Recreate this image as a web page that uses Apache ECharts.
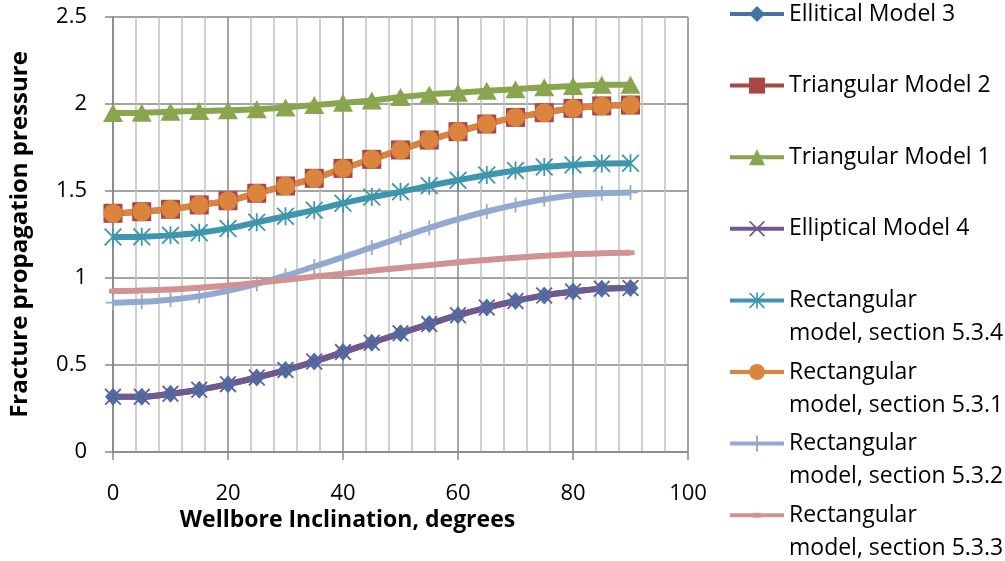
<!DOCTYPE html>
<html>
<head>
<meta charset="utf-8">
<script src="https://cdn.jsdelivr.net/npm/echarts@6/dist/echarts.min.js"></script>
<style>
  html, body { margin: 0; padding: 0; background: #fff; }
  #chart { width: 1005px; height: 561px; }
</style>
</head>
<body>
<div id="chart"></div>
<script>
// Wellbore inclination (degrees) at which every model was evaluated
const INCLINATION = [0, 5, 10, 15, 20, 25, 30, 35, 40, 45, 50, 55, 60, 65, 70, 75, 80, 85, 90];

// Fracture propagation pressure for each model
const ELLITICAL_MODEL_3 = [0.318, 0.318, 0.335, 0.358, 0.390, 0.428, 0.471, 0.520, 0.574, 0.628, 0.682, 0.735, 0.786, 0.830, 0.868, 0.900, 0.922, 0.938, 0.942];
const TRIANGULAR_MODEL_2 = [1.372, 1.381, 1.395, 1.420, 1.444, 1.487, 1.529, 1.573, 1.630, 1.682, 1.736, 1.793, 1.841, 1.885, 1.923, 1.950, 1.975, 1.989, 1.994];
const TRIANGULAR_MODEL_1 = [1.948, 1.950, 1.956, 1.960, 1.964, 1.970, 1.980, 1.994, 2.007, 2.020, 2.040, 2.055, 2.065, 2.076, 2.085, 2.096, 2.103, 2.110, 2.110];
const ELLIPTICAL_MODEL_4 = [0.318, 0.318, 0.335, 0.358, 0.390, 0.428, 0.471, 0.520, 0.574, 0.628, 0.682, 0.735, 0.786, 0.830, 0.868, 0.900, 0.922, 0.938, 0.942];
const RECT_534 = [1.235, 1.237, 1.245, 1.260, 1.285, 1.320, 1.355, 1.390, 1.430, 1.465, 1.495, 1.530, 1.562, 1.592, 1.618, 1.638, 1.650, 1.658, 1.660];
const RECT_531 = [1.372, 1.381, 1.395, 1.420, 1.444, 1.487, 1.529, 1.573, 1.630, 1.682, 1.736, 1.793, 1.841, 1.885, 1.923, 1.950, 1.975, 1.989, 1.994];
const RECT_532 = [0.858, 0.863, 0.875, 0.896, 0.926, 0.966, 1.013, 1.066, 1.120, 1.176, 1.232, 1.288, 1.338, 1.382, 1.420, 1.452, 1.475, 1.487, 1.492];
const RECT_533 = [0.925, 0.928, 0.934, 0.944, 0.957, 0.972, 0.990, 1.008, 1.025, 1.042, 1.058, 1.074, 1.090, 1.104, 1.117, 1.128, 1.137, 1.142, 1.145];

const SERIES_NAMES = [
  'Ellitical Model 3',
  'Triangular Model 2',
  'Triangular Model 1',
  'Elliptical Model 4',
  'Rectangular model, section 5.3.4',
  'Rectangular model, section 5.3.1',
  'Rectangular model, section 5.3.2',
  'Rectangular model, section 5.3.3'
];
const SERIES_VALUES = [
  ELLITICAL_MODEL_3, TRIANGULAR_MODEL_2, TRIANGULAR_MODEL_1, ELLIPTICAL_MODEL_4,
  RECT_534, RECT_531, RECT_532, RECT_533
];

// Axis tick settings
const X_MIN = 0, X_MAX = 100, X_STEP = 20;
const Y_MIN = 0, Y_MAX = 2.5, Y_STEP = 0.5;

// Marker shapes drawn as thin filled strokes
const SYM_CROSS = 'path://M0,1.5L1.5,0L20,18.5L18.5,20ZM18.5,0L20,1.5L1.5,20L0,18.5Z';
const SYM_STAR = 'path://M0,1.4L1.4,0L20,18.6L18.6,20ZM18.6,0L20,1.4L1.4,20L0,18.6ZM9,0L11,0L11,20L9,20Z';
const SYM_PLUS = 'path://M8.8,0L11.2,0L11.2,20L8.8,20ZM0,8.8L20,8.8L20,11.2L0,11.2Z';
const SYM_DASH = 'path://M0,0M20,20M5,7L15,7L15,13L5,13Z';

const STYLES = [
  { color: '#4572A7', symbol: 'diamond', size: [16, 18] },
  { color: '#AA4643', symbol: 'rect', size: 19 },
  { color: '#89A54E', symbol: 'triangle', size: [20, 18] },
  { color: '#71588F', symbol: SYM_CROSS, size: 17 },
  { color: '#3D96AE', symbol: SYM_STAR, size: 18 },
  { color: '#DB843D', symbol: 'circle', size: 19 },
  { color: '#93A9CF', symbol: SYM_PLUS, size: 15 },
  { color: '#D19392', symbol: SYM_DASH, size: 16 }
];

const FONT = '"Open Sans", "Noto Sans", sans-serif';
const MAJOR_GRID = '#868686';
const MINOR_GRID = '#c0c0c0';
const LINE_WIDTH = 6;

const series = SERIES_NAMES.map((name, i) => ({
  name,
  type: 'line',
  smooth: 0.4,
  data: INCLINATION.map((x, k) => [x, SERIES_VALUES[i][k]]),
  symbol: STYLES[i].symbol,
  symbolSize: STYLES[i].size,
  showAllSymbol: true,
  color: STYLES[i].color,
  lineStyle: { color: STYLES[i].color, width: LINE_WIDTH, type: 'solid' },
  itemStyle: { color: STYLES[i].color, opacity: 1 },
  emphasis: { disabled: true }
}));

// One legend block per entry, stacked at an even pitch on the right.
// Two-line entries get a blank leading line so the first text line sits on the icon.
const LEGEND_FIRST = 14;
const LEGEND_PITCH = 71.6;
const LEGEND_LINE = 33;
const legends = SERIES_NAMES.map((name, i) => {
  const twoLine = name.indexOf('Rectangular ') === 0;
  const centre = LEGEND_FIRST + i * LEGEND_PITCH;
  return {
    data: [name],
    orient: 'vertical',
    left: 728,
    top: twoLine ? centre - LEGEND_LINE * 1.5 : centre - LEGEND_LINE / 2,
    padding: 0,
    itemGap: 0,
    itemWidth: 54,
    itemHeight: 20,
    selectedMode: false,
    formatter: n => (twoLine ? ' \n' + n.replace('Rectangular ', 'Rectangular\n') : n),
    lineStyle: { width: 4 },
    textStyle: {
      fontFamily: FONT,
      fontSize: 23,
      color: '#000',
      lineHeight: LEGEND_LINE
    }
  };
});

const chart = echarts.init(document.getElementById('chart'), null, { renderer: 'canvas' });
chart.setOption({
  animation: false,
  backgroundColor: '#fff',
  grid: { left: 109, right: 317, top: 17, bottom: 109, containLabel: false },
  legend: legends,
  xAxis: {
    type: 'value',
    min: X_MIN, max: X_MAX, interval: X_STEP,
    name: 'Wellbore Inclination, degrees',
    nameLocation: 'middle',
    nameGap: 57,
    nameMoveOverlap: false,
    nameTextStyle: {
      fontFamily: FONT, fontSize: 23, fontWeight: 'bold', color: '#000',
      padding: [0, 106, 0, 0]
    },
    axisLine: { show: true, lineStyle: { color: MAJOR_GRID, width: 1.5 } },
    axisTick: { show: true, inside: false, length: 8, lineStyle: { color: MAJOR_GRID, width: 1.5 } },
    axisLabel: { fontFamily: FONT, fontSize: 22, color: '#000', margin: 31 },
    splitLine: { show: true, lineStyle: { color: MAJOR_GRID, width: 1.5 } },
    minorTick: { show: false, splitNumber: 5 },
    minorSplitLine: { show: true, lineStyle: { color: MINOR_GRID, width: 1.5 } }
  },
  yAxis: {
    type: 'value',
    min: Y_MIN, max: Y_MAX, interval: Y_STEP,
    name: 'Fracture propagation pressure',
    nameLocation: 'middle',
    nameGap: 81,
    nameMoveOverlap: false,
    nameTextStyle: { fontFamily: FONT, fontSize: 24, fontWeight: 'bold', color: '#000' },
    axisLine: { show: true, lineStyle: { color: MAJOR_GRID, width: 1.5 } },
    axisTick: { show: true, inside: false, length: 8, lineStyle: { color: MAJOR_GRID, width: 1.5 } },
    axisLabel: { fontFamily: FONT, fontSize: 22, color: '#000', margin: 26 },
    splitLine: { show: true, lineStyle: { color: MAJOR_GRID, width: 1.5 } }
  },
  series
});
</script>
</body>
</html>
